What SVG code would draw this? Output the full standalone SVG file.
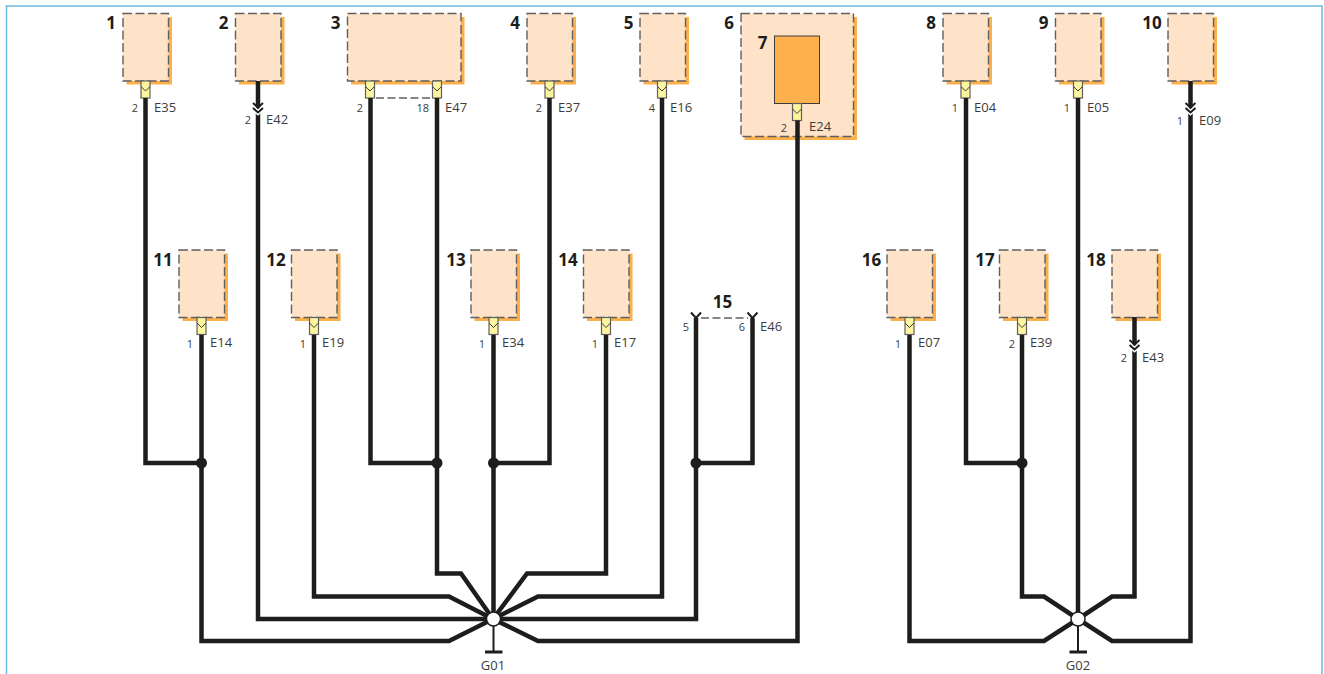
<svg xmlns="http://www.w3.org/2000/svg" width="1324" height="674" viewBox="0 0 1324 674">
<style>
text{font-family:"Open Sans","Liberation Sans",sans-serif;fill:#3c3c3c}
.n{font-size:17px;font-weight:700;fill:#1d1d1b;text-anchor:middle}
.c{font-size:13px}
.p{font-size:11px;text-anchor:end}
.s{fill:#fbb04c}
.b{fill:#fee3c9}
.d{fill:none;stroke:#5f5f5f;stroke-width:1.400;stroke-dasharray:9 3.500}
.k{fill:#fdf59e;stroke:#5f5f5f;stroke-width:1.200}
.v{fill:none;stroke:#3c3c3c;stroke-width:1}
.w{fill:none;stroke:#1d1d1b;stroke-width:4.500;stroke-linejoin:miter}
.h{fill:none;stroke:#1d1d1b;stroke-width:2}
.x{fill:none;stroke:#fff;stroke-width:5}
.r{fill:none;stroke:#1d1d1b;stroke-width:2}
.j{fill:#1d1d1b}
</style>
<defs>
<g id="box"><rect class="s" x="3.500" y="3.500" width="45.500" height="67.500"/><rect class="b" width="45.500" height="67.500"/><rect class="d" width="45.500" height="67.500"/></g>
<g id="pin"><rect class="k" x="-4.500" y="0" width="9" height="17"/><path class="v" d="M-4.500 5.500 0 10 4.500 5.500"/></g>
<g id="fork"><path class="x" d="M-5 5 0 9.500 5 5"/><path class="h" d="M-5 0 0 4.500 5 0M-5 5 0 9.500 5 5"/></g>
</defs>
<path d="M6.500 674V6H1322V674" fill="none" stroke="#6bb9dd" stroke-width="1.500"/>
<g id="n1"><use href="#box" x="123" y="13.500"/><use href="#pin" x="145.500" y="81"/><text class="n" x="111" y="29">1</text><text class="p" x="138" y="112">2</text><text class="c" x="154" y="112">E35</text></g>
<g id="n2"><use href="#box" x="235.500" y="13.500"/><text class="n" x="223.500" y="29">2</text><text class="p" x="251" y="124">2</text><text class="c" x="266" y="124">E42</text></g>
<g id="n3"><rect class="s" x="351" y="17" width="113.500" height="67.500"/><rect class="b" x="347.500" y="13.500" width="113.500" height="67.500"/><rect class="d" x="347.500" y="13.500" width="113.500" height="67.500"/><use href="#pin" x="370" y="81"/><use href="#pin" x="437" y="81"/><text class="n" x="335.500" y="29">3</text><text class="p" x="363" y="112">2</text><text class="p" x="429" y="112">18</text><text class="c" x="445" y="112">E47</text></g>
<g id="n4"><use href="#box" x="527" y="13.500"/><use href="#pin" x="549.500" y="81"/><text class="n" x="515" y="29">4</text><text class="p" x="542" y="112">2</text><text class="c" x="558" y="112">E37</text></g>
<g id="n5"><use href="#box" x="640" y="13.500"/><use href="#pin" x="662" y="81"/><text class="n" x="628.500" y="29">5</text><text class="p" x="655" y="112">4</text><text class="c" x="670" y="112">E16</text></g>
<g id="n6"><rect class="s" x="744.500" y="17" width="112.500" height="123"/><rect class="b" x="741" y="13.500" width="112.500" height="123"/><rect class="d" x="741" y="13.500" width="112.500" height="123"/><text class="n" x="729" y="29">6</text><text class="p" x="787" y="132">2</text><text class="c" x="809" y="131">E24</text></g>
<g id="n7"><rect x="774.500" y="36" width="45" height="67.500" fill="#fdb04c" stroke="#3c3c3c" stroke-width="1"/><use href="#pin" x="797" y="103.500"/><text class="n" x="762.500" y="49">7</text></g>
<g id="n8"><use href="#box" x="943" y="13.500"/><use href="#pin" x="965.500" y="81"/><text class="n" x="931" y="29">8</text><text class="p" x="958" y="112">1</text><text class="c" x="974" y="112">E04</text></g>
<g id="n9"><use href="#box" x="1055.500" y="13.500"/><use href="#pin" x="1078" y="81"/><text class="n" x="1043.500" y="29">9</text><text class="p" x="1070" y="112">1</text><text class="c" x="1087" y="112">E05</text></g>
<g id="n10"><use href="#box" x="1168" y="13.500"/><text class="n" x="1152" y="29">10</text><text class="p" x="1183" y="125">1</text><text class="c" x="1199" y="125">E09</text></g>
<g id="n11"><use href="#box" x="179" y="250"/><use href="#pin" x="201.500" y="317.500"/><text class="n" x="163" y="266">11</text><text class="p" x="193" y="348">1</text><text class="c" x="210" y="347">E14</text></g>
<g id="n12"><use href="#box" x="291.500" y="250"/><use href="#pin" x="314" y="317.500"/><text class="n" x="276" y="266">12</text><text class="p" x="306" y="348">1</text><text class="c" x="322" y="347">E19</text></g>
<g id="n13"><use href="#box" x="471" y="250"/><use href="#pin" x="493.500" y="317.500"/><text class="n" x="456" y="266">13</text><text class="p" x="485" y="348">1</text><text class="c" x="502" y="347">E34</text></g>
<g id="n14"><use href="#box" x="583.500" y="250"/><use href="#pin" x="606" y="317.500"/><text class="n" x="568" y="266">14</text><text class="p" x="598" y="348">1</text><text class="c" x="614" y="347">E17</text></g>
<g id="n15"><text class="n" x="722.500" y="308">15</text><text class="p" x="689" y="331">5</text><text class="p" x="745" y="331">6</text><text class="c" x="760" y="331">E46</text></g>
<g id="n16"><use href="#box" x="887" y="250"/><use href="#pin" x="909.500" y="317.500"/><text class="n" x="871.500" y="266">16</text><text class="p" x="901" y="348">1</text><text class="c" x="918" y="347">E07</text></g>
<g id="n17"><use href="#box" x="999.500" y="250"/><use href="#pin" x="1022" y="317.500"/><text class="n" x="985" y="266">17</text><text class="p" x="1015" y="348">2</text><text class="c" x="1030" y="347">E39</text></g>
<g id="n18"><use href="#box" x="1112" y="250"/><text class="n" x="1096" y="266">18</text><text class="p" x="1127" y="362">2</text><text class="c" x="1142" y="362">E43</text></g>
<g id="connectors">
<path class="w" d="M145.500 98V463H201.500M201.500 335V641H449L493 619"/>
<path class="w" d="M258 81V619H493"/>
<path class="w" d="M314 335V596.500H449L493 619"/>
<path class="w" d="M370.500 98V463H437M437 98V573.500H461L493 619"/>
<path class="w" d="M549.500 98V463H493.500M493.500 335V619"/>
<path class="w" d="M606 335V573.500H527L493 619"/>
<path class="w" d="M662 98V596.500H538L493 619"/>
<path class="w" d="M696 318V619H493M752.500 318V463H696"/>
<path class="w" d="M797.500 120.500V641H538L493 619"/>
<path class="w" d="M966 98V463H1022M1022 335V596.500H1044L1078 619"/>
<path class="w" d="M1078 98V619"/>
<path class="w" d="M909.500 335V641H1044L1078 619"/>
<path class="w" d="M1134.500 317V596.500H1112L1078 619"/>
<path class="w" d="M1190.500 81V641H1112L1078 619"/>
<path class="d" style="stroke-width:1.300;stroke-dasharray:8 3.500" d="M376 98H432M701 318H748"/>
<path class="h" d="M691 312.500 696 318 701 312.500M747.500 312.500 752.500 318 757.500 312.500"/>
<use href="#fork" x="258" y="103"/><use href="#fork" x="1190.500" y="103"/><use href="#fork" x="1134.500" y="340"/>
<g class="j"><circle cx="201.500" cy="463" r="5.500"/><circle cx="437" cy="463" r="5.500"/><circle cx="493.500" cy="463" r="5.500"/><circle cx="696" cy="463" r="5.500"/><circle cx="1022" cy="463" r="5.500"/></g>
</g>
<g id="g01"><path class="r" d="M493.500 625V652"/><path class="w" style="stroke-width:3" d="M485 652H502.500"/><circle cx="493.500" cy="619" r="7" fill="#fff" stroke="#1d1d1b" stroke-width="1.500"/><text class="c" x="493" y="670" text-anchor="middle">G01</text></g>
<g id="g02"><path class="r" d="M1078 625V652"/><path class="w" style="stroke-width:3" d="M1069.500 652H1087"/><circle cx="1078" cy="619" r="7" fill="#fff" stroke="#1d1d1b" stroke-width="1.500"/><text class="c" x="1078" y="670" text-anchor="middle">G02</text></g>
</svg>
